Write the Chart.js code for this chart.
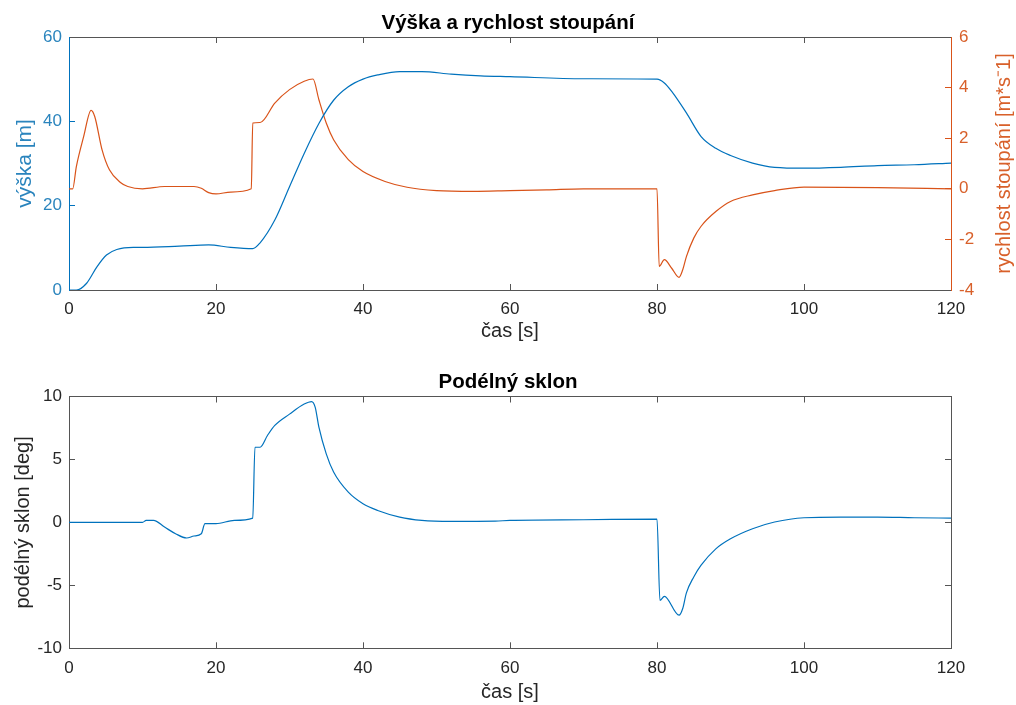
<!DOCTYPE html>
<html>
<head>
<meta charset="utf-8">
<script src="https://cdn.jsdelivr.net/npm/chart.js@4"></script>
<style>
  html, body { margin: 0; padding: 0; background: #fff; }
  #top { position: absolute; left: 0; top: 0; }
  #bottom { position: absolute; left: 0; top: 350px; }
</style>
</head>
<body>
<canvas id="top" width="1016" height="350"></canvas>
<canvas id="bottom" width="1016" height="355"></canvas>
<script>
// výška [m]
const vyskaT = [0, 1, 2.4, 3.8, 5.1, 6.5, 8.75, 10, 15, 19, 22, 25, 26, 28, 30, 32, 34, 36, 38, 40, 42, 45, 48, 52, 56, 60, 70, 80, 81, 82, 84, 86, 88, 90, 93, 96, 100, 105, 110, 115, 120];
const vyskaV = [0, 0, 1.6, 5.5, 8.3, 9.6, 10.1, 10.1, 10.4, 10.7, 10.1, 9.8, 11.2, 16.6, 24.5, 32.4, 39.5, 45, 48.2, 50, 51, 51.8, 51.8, 51.2, 50.8, 50.6, 50.1, 50, 49.1, 47.1, 42, 36.4, 33.6, 31.9, 30.1, 29.1, 28.9, 29.1, 29.5, 29.7, 30.1];

// rychlost stoupání [m/s]
const rychlostT = [0, 0.5, 1, 2, 3, 3.5, 4.5, 5.5, 7, 8, 10, 13, 17, 18, 19, 20, 22, 24.8, 25, 26, 28, 30, 32, 33.2, 34, 35, 36, 38, 40, 43, 46, 50, 55, 60, 65, 70, 80, 80.3, 81, 82, 83, 83.5, 84, 85, 86, 88, 90, 93, 96, 100, 110, 120];
const rychlostV = [0, 0, 0.88, 2.07, 3.1, 2.86, 1.54, 0.75, 0.25, 0.09, 0, 0.09, 0.09, 0.02, -0.15, -0.2, -0.13, 0, 2.6, 2.62, 3.39, 3.92, 4.25, 4.34, 3.52, 2.6, 1.94, 1.15, 0.68, 0.29, 0.06, -0.07, -0.1, -0.07, -0.04, 0, 0, -3.07, -2.8, -3.14, -3.5, -3.2, -2.68, -1.95, -1.48, -0.9, -0.5, -0.24, -0.07, 0.07, 0.05, 0];

// podélný sklon [deg]
const sklonT = [0, 10, 10.5, 11.5, 13, 14.5, 16, 17, 18, 18.5, 20, 22.5, 25, 25.3, 26, 27, 28, 30, 32, 33, 33.5, 34, 35, 36, 38, 40, 42, 45, 48, 52, 58, 60, 70, 80, 80.4, 81, 83, 83.5, 84, 85, 86, 88, 90, 93, 96, 100, 105, 110, 115, 120];
const sklonV = [0, 0, 0.16, 0.16, -0.37, -0.9, -1.24, -1.08, -0.9, -0.1, -0.1, 0.16, 0.34, 5.97, 5.97, 6.9, 7.7, 8.6, 9.4, 9.6, 9.14, 7.56, 5.44, 4.0, 2.4, 1.48, 0.95, 0.42, 0.16, 0.08, 0.1, 0.16, 0.21, 0.26, -6.2, -5.87, -7.37, -6.84, -5.6, -4.33, -3.4, -2.1, -1.3, -0.5, 0.03, 0.37, 0.42, 0.42, 0.37, 0.34];

// tick labels
const casTicks = [0, 20, 40, 60, 80, 100, 120];
const vyskaTicks = [0, 20, 40, 60];
const rychlostTicks = [-4, -2, 0, 2, 4, 6];
const sklonTicks = [-10, -5, 0, 5, 10];

const FONT = "'Liberation Sans', Arial, sans-serif";
const BLUE = '#0072BD', BLUE_TXT = '#2a84bd';
const ORANGE = '#D95319', ORANGE_TXT = '#d8602a';
const GRAY = '#262626', AXIS = '#555555';

Chart.defaults.font.family = FONT;
Chart.defaults.animation = false;

function setTicks(values) {
  return scale => { scale.ticks = values.map(v => ({ value: v })); };
}
function points(ts, vs) {
  return ts.map((t, i) => ({ x: t, y: vs[i] }));
}

function xAxis(height, titlePad) {
  return {
    type: 'linear', position: 'bottom', min: 0, max: 120,
    afterBuildTicks: setTicks(casTicks),
    afterFit: s => { s.height = height; },
    border: { color: AXIS },
    grid: { drawOnChartArea: false, tickLength: -6, color: AXIS },
    ticks: { color: GRAY, font: { size: 17 }, padding: 15.6, maxRotation: 0, autoSkip: false },
    title: { display: true, text: 'čas [s]', color: GRAY, font: { size: 20 }, padding: { top: 0, bottom: titlePad } }
  };
}
function topAxis() {
  return {
    type: 'linear', position: 'top', min: 0, max: 120,
    afterBuildTicks: setTicks(casTicks),
    afterFit: s => { s.height = 0; },
    border: { color: AXIS },
    grid: { drawOnChartArea: false, tickLength: -6, color: AXIS },
    ticks: { display: false }
  };
}
function line(data, color, axis) {
  return {
    data: data, yAxisID: axis, borderColor: color, borderWidth: 1.2,
    pointRadius: 0, fill: false, cubicInterpolationMode: 'monotone'
  };
}

const rightLabel = {
  id: 'rightLabel',
  afterDraw(chart) {
    const a = chart.chartArea, ctx = chart.ctx;
    ctx.save();
    ctx.translate(1004, (a.top + a.bottom) / 2);
    ctx.rotate(-Math.PI / 2);
    ctx.font = '20px ' + FONT;
    ctx.fillStyle = ORANGE_TXT;
    ctx.textAlign = 'center';
    ctx.textBaseline = 'middle';
    ctx.fillText('rychlost stoupání [m*s⁻1]', 0, 0);
    ctx.restore();
  }
};

new Chart(document.getElementById('top'), {
  type: 'line',
  data: {
    datasets: [
      line(points(vyskaT, vyskaV), BLUE, 'y'),
      line(points(rychlostT, rychlostV), ORANGE, 'y2')
    ]
  },
  plugins: [rightLabel],
  options: {
    responsive: false,
    layout: { padding: 0 },
    plugins: {
      legend: { display: false },
      tooltip: { enabled: false },
      title: {
        display: true, text: 'Výška a rychlost stoupání', color: '#000',
        font: { size: 20.5, weight: 'bold' }, padding: { top: 10.7, bottom: 1.7 }
      }
    },
    scales: {
      x: xAxis(60, 7),
      x2: topAxis(),
      y: {
        type: 'linear', position: 'left', min: 0, max: 60,
        afterBuildTicks: setTicks(vyskaTicks),
        afterFit: s => { s.width = 69; },
        border: { color: BLUE },
        grid: { drawOnChartArea: false, tickLength: -6, color: BLUE },
        ticks: { color: BLUE_TXT, font: { size: 17 }, padding: 13 },
        title: { display: true, text: 'výška [m]', color: BLUE_TXT, font: { size: 21 }, padding: { top: 12.5, bottom: 0 } }
      },
      y2: {
        type: 'linear', position: 'right', min: -4, max: 6,
        afterBuildTicks: setTicks(rychlostTicks),
        afterFit: s => { s.width = 65; },
        border: { color: ORANGE },
        grid: { drawOnChartArea: false, tickLength: -6, color: ORANGE },
        ticks: { color: ORANGE_TXT, font: { size: 17 }, padding: 14 }
      }
    }
  }
});

new Chart(document.getElementById('bottom'), {
  type: 'line',
  data: {
    datasets: [line(points(sklonT, sklonV), BLUE, 'y')]
  },
  options: {
    responsive: false,
    layout: { padding: 0 },
    plugins: {
      legend: { display: false },
      tooltip: { enabled: false },
      title: {
        display: true, text: 'Podélný sklon', color: '#000',
        font: { size: 20.5, weight: 'bold' }, padding: { top: 19.7, bottom: 2.2 }
      }
    },
    scales: {
      x: xAxis(56.7, 1),
      x2: topAxis(),
      y: {
        type: 'linear', position: 'left', min: -10, max: 10,
        afterBuildTicks: setTicks(sklonTicks),
        afterFit: s => { s.width = 69; },
        border: { color: AXIS },
        grid: { drawOnChartArea: false, tickLength: -6, color: AXIS },
        ticks: { color: GRAY, font: { size: 17 }, padding: 13 },
        title: { display: true, text: 'podélný sklon [deg]', color: GRAY, font: { size: 20 }, padding: { top: 11, bottom: 0 } }
      },
      y2: {
        type: 'linear', position: 'right', min: -10, max: 10,
        afterBuildTicks: setTicks(sklonTicks),
        afterFit: s => { s.width = 65; },
        border: { color: AXIS },
        grid: { drawOnChartArea: false, tickLength: -6, color: AXIS },
        ticks: { display: false }
      }
    }
  }
});
</script>
</body>
</html>
